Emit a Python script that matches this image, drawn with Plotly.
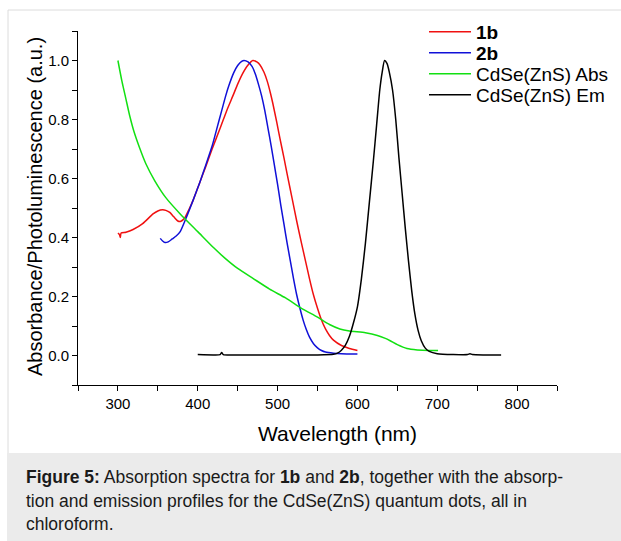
import plotly.graph_objects as go

# ---------------- data ----------------
wl_1b = [300, 302, 303, 304, 310, 319, 331, 344, 350, 356, 360, 365, 370, 375, 379, 384,
         389, 394, 403, 410, 418, 428, 437, 444, 450, 456, 463, 469, 474, 478, 483, 487,
         491, 494, 499, 503, 508, 512, 518, 524, 530, 535, 540, 545, 550, 555, 560, 565,
         570, 580, 590, 600]
abs_1b = [0.415, 0.41, 0.40, 0.415, 0.418, 0.427, 0.447, 0.48, 0.49, 0.494, 0.492, 0.485, 0.47, 0.456, 0.455, 0.468,
          0.495, 0.525, 0.59, 0.64, 0.70, 0.77, 0.835, 0.88, 0.92, 0.955, 0.985, 1.0, 0.995, 0.985, 0.96, 0.93,
          0.89, 0.855, 0.79, 0.735, 0.67, 0.615, 0.535, 0.455, 0.38, 0.32, 0.26, 0.205, 0.16, 0.12, 0.09, 0.068,
          0.052, 0.034, 0.024, 0.017]

wl_2b = [353, 356, 359, 363, 368, 373, 378, 386, 394, 403, 410, 418, 424, 430, 435, 439,
         445, 450, 455, 458, 463, 468, 472, 476, 480, 484, 488, 492, 496, 500, 504, 508,
         512, 516, 520, 524, 528, 532, 536, 540, 545, 550, 555, 560, 570, 580, 600]
abs_2b = [0.397, 0.388, 0.383, 0.385, 0.395, 0.405, 0.42, 0.47, 0.525, 0.59, 0.645, 0.71, 0.77, 0.83, 0.88, 0.915,
          0.958, 0.983, 0.997, 1.0, 0.995, 0.98, 0.955, 0.92, 0.88, 0.83, 0.77, 0.71, 0.645, 0.58, 0.51, 0.445,
          0.38, 0.32, 0.26, 0.205, 0.16, 0.12, 0.088, 0.062, 0.04, 0.026, 0.017, 0.012, 0.008, 0.006, 0.005]

wl_qd_abs = [300, 305, 310, 315, 320, 327, 335, 346, 360, 378, 400, 420, 434, 450, 470, 490, 510,
             530, 550, 565, 578, 590, 610, 625, 635, 641, 650, 662, 675, 690, 701]
qd_abs = [1.0, 0.93, 0.87, 0.81, 0.76, 0.705, 0.65, 0.593, 0.535, 0.48, 0.42, 0.365, 0.33, 0.295, 0.26, 0.225, 0.195,
          0.16, 0.13, 0.105, 0.09, 0.083, 0.077, 0.068, 0.058, 0.05, 0.037, 0.024, 0.019, 0.017, 0.017]

wl_qd_em = [400, 420, 428, 430, 432, 450, 500, 550, 570, 575, 580, 585, 590, 595, 600, 605, 610, 615,
            620, 624, 628, 631, 634, 637, 640, 644, 648, 652, 656, 660, 664, 668, 672, 676, 680, 685,
            690, 700, 720, 738, 741, 744, 760, 780]
qd_em = [0.003, 0.002, 0.003, 0.01, 0.003, 0.002, 0.002, 0.002, 0.004, 0.008, 0.018, 0.035, 0.065, 0.11, 0.165, 0.26, 0.38, 0.52,
         0.66, 0.78, 0.9, 0.96, 1.0, 0.99, 0.96, 0.9, 0.8, 0.67, 0.55, 0.43, 0.32, 0.22, 0.14, 0.085, 0.05, 0.025,
         0.014, 0.006, 0.003, 0.003, 0.006, 0.003, 0.002, 0.002]

x_ticks = [300, 400, 500, 600, 700, 800]
y_ticks = [0.0, 0.2, 0.4, 0.6, 0.8, 1.0]

caption_lines = [
    "<b>Figure 5:</b> Absorption spectra for <b>1b</b> and <b>2b</b>, together with the absorp-",
    "tion and emission profiles for the CdSe(ZnS) quantum dots, all in",
    "chloroform.",
]

# ---------------- layout geometry ----------------
W, H = 621, 541
L, R, T, B = 78, 557, 31, 385   # plot area in pixels


def px(x):
    return (x - L) / (R - L)


def py(y):
    return (B - y) / (B - T)


FONT = "Liberation Sans, Arial, sans-serif"

fig = go.Figure()
series = [
    ("<b>1b</b>", wl_1b, abs_1b, "#f01010"),
    ("<b>2b</b>", wl_2b, abs_2b, "#1010d8"),
    ("CdSe(ZnS) Abs", wl_qd_abs, qd_abs, "#12e012"),
    ("CdSe(ZnS) Em", wl_qd_em, qd_em, "#000000"),
]
legend_ids = ["legend", "legend2", "legend3", "legend4"]
legend_rows = [32, 53, 74, 95]
for (name, xs, ys, col), lid in zip(series, legend_ids):
    fig.add_trace(go.Scatter(x=xs, y=ys, mode="lines", name=name, legend=lid,
                             line=dict(color=col, width=1.5, shape="spline", smoothing=0.6)))

legend_style = dict(xanchor="left", yanchor="middle", bgcolor="rgba(0,0,0,0)", borderwidth=0,
                    font=dict(size=19, family=FONT, color="#000"), itemwidth=42)
legends = {lid: dict(x=px(424), y=py(row), **legend_style) for lid, row in zip(legend_ids, legend_rows)}

fig.update_layout(
    width=W, height=H,
    margin=dict(l=L, r=W - R, t=T, b=H - B, pad=0, autoexpand=False),
    paper_bgcolor="white", plot_bgcolor="white",
    font=dict(family=FONT, color="#000"),
    showlegend=True,
    xaxis=dict(range=[250, 850], showgrid=False, zeroline=False,
               showline=True, linecolor="#000", linewidth=1,
               ticks="outside", ticklen=5, tickwidth=1, tickcolor="#000",
               tickvals=x_ticks, ticktext=[str(v) for v in x_ticks],
               tickfont=dict(size=15, family=FONT, color="#000"),
               minor=dict(ticks="outside", ticklen=5, tickwidth=1, tickcolor="#000", dtick=50, tick0=250)),
    yaxis=dict(range=[-0.1, 1.1], showgrid=False, zeroline=False,
               showline=True, linecolor="#000", linewidth=1,
               ticks="outside", ticklen=5, tickwidth=1, tickcolor="#000",
               tickvals=y_ticks, ticktext=[f"{v:.1f}" for v in y_ticks],
               tickfont=dict(size=15, family=FONT, color="#000"),
               minor=dict(ticks="outside", ticklen=5, tickwidth=1, tickcolor="#000", dtick=0.1, tick0=-0.1)),
    **legends,
)

# frame and caption box
fig.add_shape(type="rect", xref="paper", yref="paper",
              x0=px(7), x1=px(623), y0=py(453), y1=py(543),
              fillcolor="#ebebeb", line=dict(width=0), layer="below")
fig.add_shape(type="line", xref="paper", yref="paper",
              x0=px(8), x1=px(623), y0=py(10), y1=py(10), line=dict(color="#dcdcdc", width=1))
fig.add_shape(type="line", xref="paper", yref="paper",
              x0=px(8), x1=px(8), y0=py(10), y1=py(453), line=dict(color="#dcdcdc", width=1))

# axis titles
fig.add_annotation(text="Wavelength (nm)", xref="paper", yref="paper",
                   x=px(337), y=py(433), xanchor="center", yanchor="middle", showarrow=False,
                   font=dict(size=21, family=FONT, color="#000"))
fig.add_annotation(text="Absorbance/Photoluminescence (a.u.)", xref="paper", yref="paper",
                   x=px(35), y=py(207), xanchor="center", yanchor="middle", showarrow=False, textangle=-90,
                   font=dict(size=20, family=FONT, color="#000"))

# caption
for i, line in enumerate(caption_lines):
    fig.add_annotation(text=line, xref="paper", yref="paper",
                       x=px(24), y=py(477 + i * 23.5), xanchor="left", yanchor="middle",
                       showarrow=False, align="left",
                       font=dict(size=17.5, family=FONT, color="#1a1a1a"))

fig.write_html("out.html")
